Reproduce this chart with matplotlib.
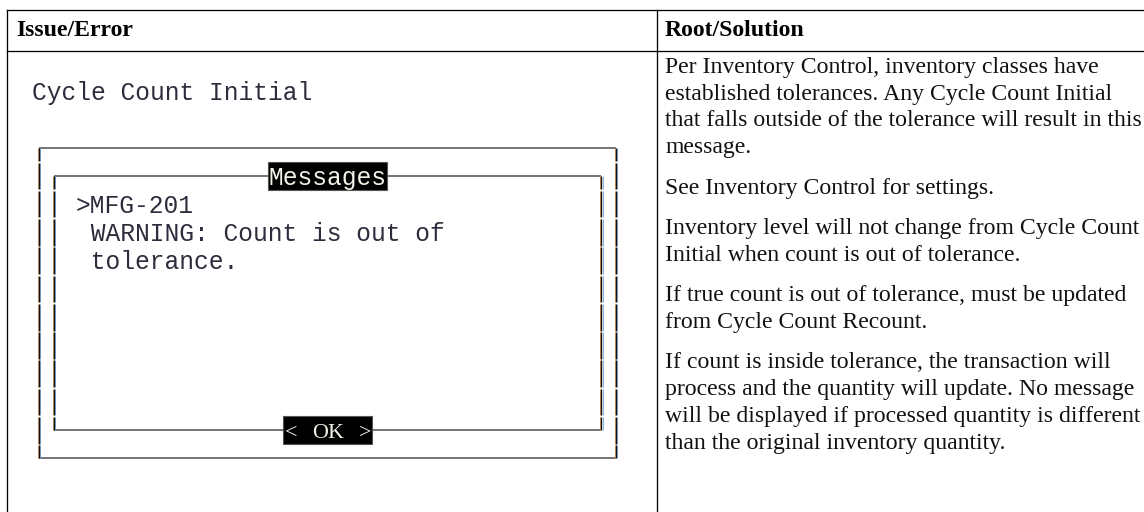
import matplotlib
matplotlib.use("Agg")
import matplotlib.pyplot as plt
from matplotlib.patches import Rectangle

# table text
headers = ["Issue/Error", "Root/Solution"]
solution_paragraphs = [
    ["Per Inventory Control, inventory classes have",
     "established tolerances. Any Cycle Count Initial",
     "that falls outside of the tolerance will result in this",
     "message."],
    ["See Inventory Control for settings."],
    ["Inventory level will not change from Cycle Count",
     "Initial when count is out of tolerance."],
    ["If true count is out of tolerance, must be updated",
     "from Cycle Count Recount."],
    ["If count is inside tolerance, the transaction will",
     "process and the quantity will update. No message",
     "will be displayed if processed quantity is different",
     "than the original inventory quantity."],
]

# terminal screen text
screen_title = "Cycle Count Initial"
dialog_title = "Messages"
message_lines = [">MFG-201", " WARNING: Count is out of", " tolerance."]
button_label = "< OK >"

SERIF = "Liberation Serif"
MONO = "Liberation Mono"


def main():
    W, H = 1144, 512
    fig = plt.figure(figsize=(W / 100, H / 100), dpi=100)
    ax = fig.add_axes([0, 0, 1, 1])
    ax.set_xlim(0, W)
    ax.set_ylim(H, 0)
    ax.axis("off")

    px = 0.72  # points per pixel

    # table grid
    lw = 1.3 * px
    top, head_bot, left, div = 10.3, 50.7, 7.3, 657
    ax.plot([left, W], [top, top], color="black", lw=lw)
    ax.plot([left, W], [head_bot, head_bot], color="black", lw=lw)
    ax.plot([left, left], [top, H], color="black", lw=lw)
    ax.plot([div, div], [top, H], color="black", lw=lw)

    fs = 23.8 * px
    ax.text(16, 35.7, headers[0], family=SERIF, weight="bold", fontsize=fs,
            va="baseline", ha="left")
    ax.text(665, 35.7, headers[1], family=SERIF, weight="bold", fontsize=fs,
            va="baseline", ha="left")

    # right column paragraphs
    line_h, para_h = 26.8, 40.3
    y = 67.5 + 5.4
    for pi, para in enumerate(solution_paragraphs):
        if pi:
            y += para_h - line_h
        for line in para:
            ax.text(665, y, line, family=SERIF, fontsize=fs, va="baseline",
                    ha="left", color="#111111")
            y += line_h

    # terminal grid
    x0, cw = 31.65, 14.8
    y0, rh = 91.1, 28.26
    mono_fs = (cw / 0.6) * px

    def cx(c):
        return x0 + (c + 0.5) * cw

    def cy(r):
        return y0 + r * rh

    def put(col, row, s, **kw):
        ax.text(x0 + col * cw, cy(row) + 8.8, s, family=MONO, fontsize=mono_fs,
                va="baseline", ha="left", **kw)

    put(0, 0, screen_title, color="#2c2c3c")

    hcol = "#4a4a4a"

    def hline(row, c1, c2):
        ax.plot([cx(c1), cx(c2)], [cy(row), cy(row)], color=hcol,
                lw=1.5 * px, solid_capstyle="butt")

    def vline(col, r1, r2):
        gap = 1.6
        for r in range(r1, r2 + 1):
            ya = cy(r) if r == r1 else cy(r) - rh / 2 + gap / 2
            yb = cy(r) if r == r2 else cy(r) + rh / 2 - gap / 2
            x = cx(col)
            ax.plot([x - 1.1, x - 1.1], [ya, yb], color="#d8a060", lw=1.0 * px,
                    solid_capstyle="butt")
            ax.plot([x + 1.1, x + 1.1], [ya, yb], color="#86b6e6", lw=1.0 * px,
                    solid_capstyle="butt")
            ax.plot([x, x], [ya, yb], color="#111111", lw=1.4 * px,
                    solid_capstyle="butt")

    # outer and inner boxes
    hline(2, 0, 39)
    hline(13, 0, 39)
    vline(0, 2, 13)
    vline(39, 2, 13)
    hline(3, 1, 38)
    hline(12, 1, 38)
    vline(1, 3, 12)
    vline(38, 3, 12)

    # highlighted dialog title
    tc = 16
    ax.add_patch(Rectangle((x0 + tc * cw, cy(3) - rh / 2), len(dialog_title) * cw,
                           rh, facecolor="black", edgecolor="#555555", lw=0.8,
                           zorder=3))
    put(tc, 3, dialog_title, color="#f2f2e8", zorder=4)

    for i, line in enumerate(message_lines):
        put(3, 4 + i, line, color="#2c2c3c")

    # highlighted button, characters centred in their cells
    bc = 17
    ax.add_patch(Rectangle((x0 + bc * cw, cy(12) - rh / 2), len(button_label) * cw,
                           rh, facecolor="black", edgecolor="#555555", lw=0.8,
                           zorder=3))
    for i, ch in enumerate(button_label):
        if ch != " ":
            ax.text(cx(bc + i), cy(12) + 7.5, ch, family=SERIF, fontsize=22 * px,
                    va="baseline", ha="center", color="#f2f2e8", zorder=4)

    fig.savefig("out.png", dpi=100)


if __name__ == "__main__":
    main()
